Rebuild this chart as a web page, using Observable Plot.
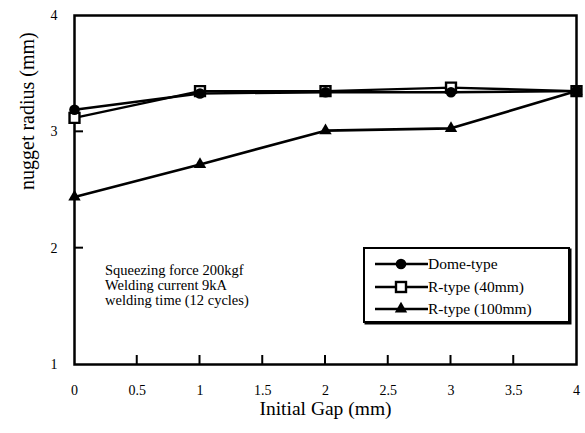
<!DOCTYPE html>
<html>
<head>
<meta charset="utf-8">
<script src="https://cdn.jsdelivr.net/npm/d3@7"></script>
<script src="https://cdn.jsdelivr.net/npm/@observablehq/plot@0.6"></script>
<style>
  html, body { margin: 0; padding: 0; background: #fff; }
  #wrap { position: relative; width: 585px; height: 433px; font-family: "Liberation Serif", "DejaVu Serif", serif; }
  #legend { position: absolute; left: 363px; top: 247px; width: 207px; height: 76px; border: 2.5px solid #000; box-shadow: 1.5px 1.5px 0 #000; background: #fff; box-sizing: border-box; }
  .row { position: absolute; left: 10px; height: 20px; display: flex; align-items: center; font-size: 15.5px; }
  .row svg { display: block; }
  #note { position: absolute; left: 105px; top: 263px; font-size: 14.5px; line-height: 15px; }
</style>
</head>
<body>
<div id="wrap"></div>
<script>
// Data
const gap = [0, 1, 2, 3, 4];
const dome = [3.19, 3.33, 3.34, 3.34, 3.35];
const r40 = [3.12, 3.35, 3.35, 3.38, 3.35];
const r100 = [2.44, 2.72, 3.01, 3.03, 3.35];
const seriesNames = ["Dome-type", "R-type (40mm)", "R-type (100mm)"];
const xTicks = [0, 0.5, 1, 1.5, 2, 2.5, 3, 3.5, 4];
const yTicks = [1, 2, 3, 4];
const noteLines = ["Squeezing force 200kgf", "Welding current 9kA", "welding time (12 cycles)"];

const rows = [];
[dome, r40, r100].forEach((vals, i) => gap.forEach((g, j) => rows.push({series: seriesNames[i], gap: g, r: vals[j]})));
const bySeries = name => rows.filter(d => d.series === name);

const W = 585, H = 433, ML = 74, MR = 9, MT = 15, MB = 69;
const tickLen = 9;

const chart = Plot.plot({
  width: W,
  height: H,
  marginLeft: ML,
  marginRight: MR,
  marginTop: MT,
  marginBottom: MB,
  style: {fontFamily: "Liberation Serif, DejaVu Serif, serif", background: "#fff", color: "#000", overflow: "visible"},
  x: {domain: [0, 4]},
  y: {domain: [1, 4]},
  marks: [
    Plot.axisX(xTicks, {tickSize: 0, tickPadding: 21, fontSize: 14, tickFormat: d => String(d), label: null}),
    Plot.axisY(yTicks, {tickSize: 0, tickPadding: 17, fontSize: 14, tickFormat: d => String(d), label: null}),
    Plot.frame({strokeWidth: 2.5}),
    Plot.text(["nugget radius (mm)"], {frameAnchor: "left", rotate: -90, dx: -47, fontSize: 20}),
    Plot.text(["Initial Gap (mm)"], {frameAnchor: "bottom", dy: 50, fontSize: 19.5}),
    Plot.line(bySeries(seriesNames[2]), {x: "gap", y: "r", stroke: "#000", strokeWidth: 2.6}),
    Plot.line(bySeries(seriesNames[1]), {x: "gap", y: "r", stroke: "#000", strokeWidth: 2.4}),
    Plot.line(bySeries(seriesNames[0]), {x: "gap", y: "r", stroke: "#000", strokeWidth: 2.4}),
    Plot.dot(bySeries(seriesNames[1]), {x: "gap", y: "r", symbol: "square", r: 5.6, fill: "#fff", stroke: "#000", strokeWidth: 2.4}),
    Plot.dot(bySeries(seriesNames[0]), {x: "gap", y: "r", symbol: "circle", r: 5.3, fill: "#000", stroke: "none"}),
    Plot.dot(bySeries(seriesNames[2]), {x: "gap", y: "r", symbol: "triangle", r: 4.6, fill: "#000", stroke: "none"})
  ]
});

const wrap = document.getElementById("wrap");
wrap.appendChild(chart);

// Inward tick marks, positioned with the chart's own scales
const sx = chart.scale("x"), sy = chart.scale("y");
const svg = d3.select(chart.tagName.toLowerCase() === "svg" ? chart : chart.querySelector("svg"));
const tg = svg.append("g").attr("stroke", "#000").attr("stroke-width", 2);
const yBottom = sy.apply(sy.domain[0]), xLeft = sx.apply(sx.domain[0]);
xTicks.slice(1, -1).forEach(t => {
  const px = sx.apply(t);
  tg.append("line").attr("x1", px).attr("x2", px).attr("y1", yBottom).attr("y2", yBottom - tickLen);
});
yTicks.slice(1, -1).forEach(t => {
  const py = sy.apply(t);
  tg.append("line").attr("x1", xLeft).attr("x2", xLeft + tickLen).attr("y1", py).attr("y2", py);
});

// Annotation
const note = document.createElement("div");
note.id = "note";
note.innerHTML = noteLines.map(t => `<div>${t}</div>`).join("");
wrap.appendChild(note);

// Legend
const legend = document.createElement("div");
legend.id = "legend";
const symbols = [
  `<circle cx="26" cy="10" r="5.3" fill="#000"/>`,
  `<rect x="21" y="5" width="10" height="10" fill="#fff" stroke="#000" stroke-width="2.4"/>`,
  `<path d="${d3.symbol(d3.symbolTriangle, Math.PI * 4.6 * 4.6)()}" transform="translate(26,10)" fill="#000"/>`
];
seriesNames.forEach((name, i) => {
  const row = document.createElement("div");
  row.className = "row";
  row.style.top = (5 + i * 22.5) + "px";
  row.innerHTML = `<svg width="53" height="20"><line x1="0" x2="53" y1="10" y2="10" stroke="#000" stroke-width="2.4"/>${symbols[i]}</svg><span>${name}</span>`;
  legend.appendChild(row);
});
wrap.appendChild(legend);
</script>
</body>
</html>
